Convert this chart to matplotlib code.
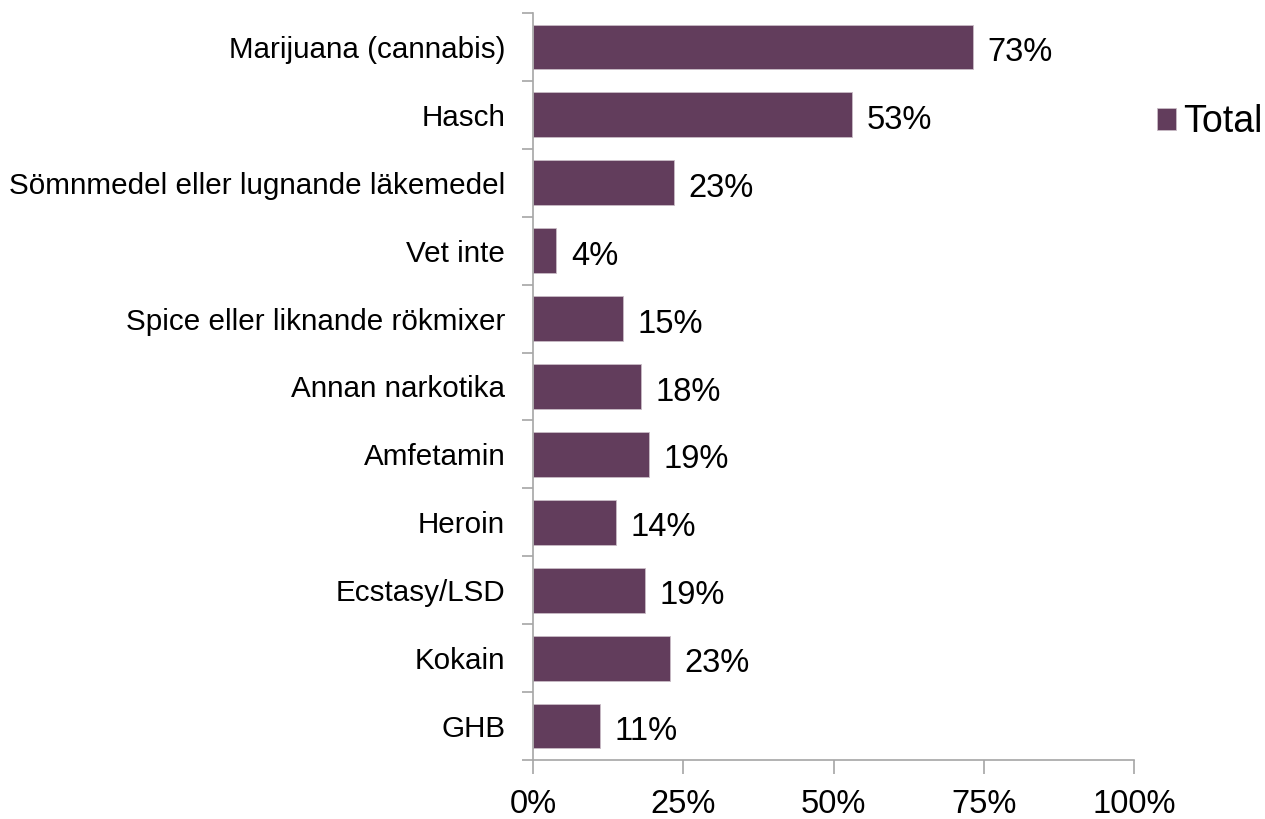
import matplotlib.pyplot as plt
import numpy as np

plt.rcParams['font.family'] = ['Liberation Sans', 'DejaVu Sans']

categories = ['Marijuana (cannabis)', 'Hasch', 'Sömnmedel eller lugnande läkemedel',
              'Vet inte', 'Spice eller liknande rökmixer', 'Annan narkotika',
              'Amfetamin', 'Heroin', 'Ecstasy/LSD', 'Kokain', 'GHB']
values = [73.2, 53.1, 23.4, 3.9, 15.0, 17.9, 19.3, 13.8, 18.6, 22.8, 11.1]
value_labels = ['73%', '53%', '23%', '4%', '15%', '18%', '19%', '14%', '19%', '23%', '11%']
xticks = [0, 25, 50, 75, 100]
xtick_labels = ['0%', '25%', '50%', '75%', '100%']

bar_color = '#623D5C'
axis_color = '#A6A6A6'

fig = plt.figure(figsize=(12.65, 8.19), dpi=100)
ax = fig.add_axes([533 / 1265, 1 - 760 / 819, (1134 - 533) / 1265, (760 - 13) / 819])

y = np.arange(len(categories))
ax.barh(y, values, height=0.66, color=bar_color, edgecolor='#C9BCC6',
        linewidth=0.6, label='Total')

for yi, v, lab in zip(y, values, value_labels):
    ax.text(v + 2.4, yi + 0.03, lab, va='center_baseline', ha='left', fontsize=23.5)

ax.set_xlim(0, 100)
ax.set_ylim(len(categories) - 0.5, -0.5)

ax.set_yticks(y)
ax.set_yticklabels(categories, fontsize=21.3, va='center_baseline')
ax.set_yticks(np.arange(len(categories) + 1) - 0.5, minor=True)
ax.tick_params(axis='y', which='major', length=0, pad=20)
ax.tick_params(axis='y', which='minor', length=8, width=1.2, color=axis_color)

ax.set_xticks(xticks)
ax.set_xticklabels(xtick_labels, fontsize=23.5)
ax.tick_params(axis='x', length=10, width=1.2, color=axis_color, pad=11)

for side in ['top', 'right']:
    ax.spines[side].set_visible(False)
for side in ['left', 'bottom']:
    ax.spines[side].set_color(axis_color)
    ax.spines[side].set_linewidth(1.2)

ax.legend(loc='center left', bbox_to_anchor=(1157 / 1265, 1 - 122 / 819),
          bbox_transform=fig.transFigure, frameon=False, fontsize=27,
          borderpad=0, borderaxespad=0,
          handlelength=0.51, handleheight=0.51, handletextpad=0.2)

fig.savefig('out.png', dpi=100)
